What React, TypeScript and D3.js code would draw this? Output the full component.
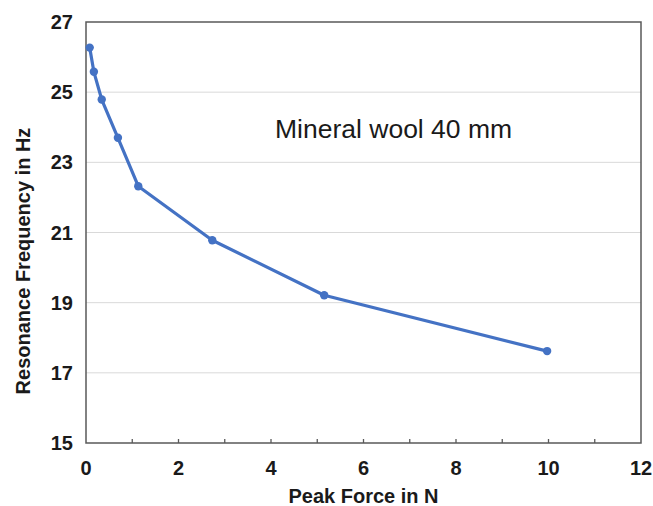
import React from 'react';
import * as d3 from 'd3';

// Peak force (N) vs resonance frequency (Hz)
const peakForce = [0.08, 0.17, 0.34, 0.69, 1.13, 2.73, 5.15, 9.97];
const resonanceFreq = [26.27, 25.58, 24.79, 23.7, 22.32, 20.78, 19.21, 17.62];
const xTickLabels = [0, 2, 4, 6, 8, 10, 12];
const xMinorTicks = [1, 2, 3, 4, 5, 6, 7, 8, 9, 10, 11];
const yTickLabels = [15, 17, 19, 21, 23, 25, 27];
const annotation = 'Mineral wool 40 mm';

const width = 653;
const height = 506;
const margin = { top: 22, right: 12, bottom: 63, left: 86 };

export default function App() {
  const x = d3.scaleLinear().domain([0, 12]).range([margin.left, width - margin.right]);
  const y = d3.scaleLinear().domain([15, 27]).range([height - margin.bottom, margin.top]);

  const points = peakForce.map((f, i) => ({ f, hz: resonanceFreq[i] }));
  const line = d3
    .line<{ f: number; hz: number }>()
    .x((d) => x(d.f))
    .y((d) => y(d.hz));

  const font = 'Arial, "Liberation Sans", sans-serif';
  const axisColor = '#595959';
  const textColor = '#1a1a1a';

  return (
    <svg
      width={width}
      height={height}
      style={{ position: 'absolute', left: 0, top: 0, background: '#fff' }}
      fontFamily={font}
    >
      {/* horizontal gridlines */}
      {yTickLabels.slice(1, -1).map((t) => (
        <line key={'g' + t} x1={x(0)} x2={x(12)} y1={y(t)} y2={y(t)} stroke="#d9d9d9" strokeWidth={1} />
      ))}

      {/* frame */}
      <rect
        x={x(0)}
        y={y(27)}
        width={x(12) - x(0)}
        height={y(15) - y(27)}
        fill="none"
        stroke={axisColor}
        strokeWidth={1.5}
      />

      {/* x tick marks (inside) */}
      {xMinorTicks.map((t) => (
        <line key={'t' + t} x1={x(t)} x2={x(t)} y1={y(15)} y2={y(15) - 4} stroke={axisColor} strokeWidth={1.3} />
      ))}

      {/* x tick labels */}
      {xTickLabels.map((t) => (
        <text key={'x' + t} x={x(t)} y={y(15) + 32} textAnchor="middle" fontSize={20} fontWeight="bold" fill={textColor}>
          {t}
        </text>
      ))}

      {/* y tick labels */}
      {yTickLabels.map((t) => (
        <text key={'y' + t} x={x(0) - 13} y={y(t) + 7} textAnchor="end" fontSize={20} fontWeight="bold" fill={textColor}>
          {t}
        </text>
      ))}

      {/* axis titles */}
      <text x={(x(0) + x(12)) / 2} y={503} textAnchor="middle" fontSize={20} fontWeight="bold" fill={textColor}>
        Peak Force in N
      </text>
      <text
        transform="translate(30, 261) rotate(-90)"
        textAnchor="middle"
        fontSize={20}
        fontWeight="bold"
        fill={textColor}
      >
        Resonance Frequency in Hz
      </text>

      {/* annotation */}
      <text x={275} y={138} fontSize={26.5} fill={textColor}>
        {annotation}
      </text>

      {/* series */}
      <path d={line(points) || ''} fill="none" stroke="#4472C4" strokeWidth={3.2} strokeLinejoin="round" />
      {points.map((p, i) => (
        <circle key={'p' + i} cx={x(p.f)} cy={y(p.hz)} r={4.2} fill="#4472C4" />
      ))}
    </svg>
  );
}
